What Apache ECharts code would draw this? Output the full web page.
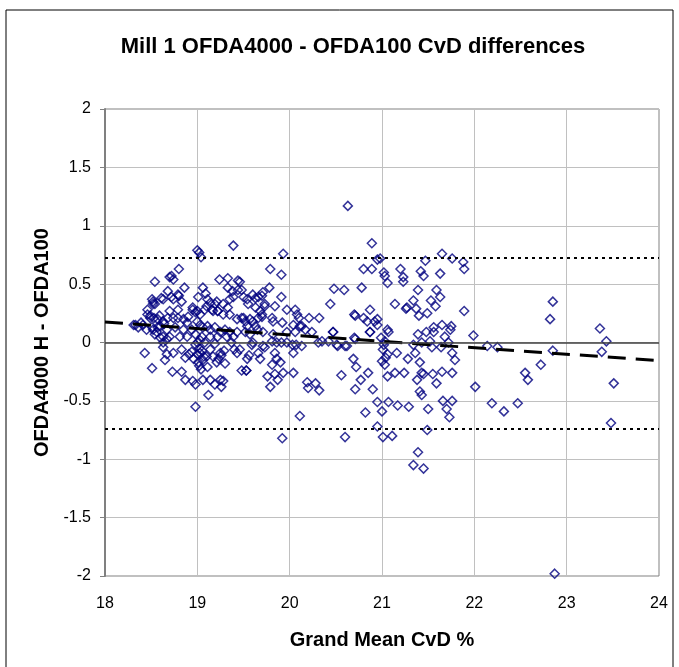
<!DOCTYPE html>
<html>
<head>
<meta charset="utf-8">
<title>Mill 1 OFDA4000 - OFDA100 CvD differences</title>
<script src="https://cdn.jsdelivr.net/npm/echarts@6/dist/echarts.min.js"></script>
<style>
  html, body { margin: 0; padding: 0; background: #fff; }
  #chart { width: 679px; height: 667px; }
</style>
</head>
<body>
<div id="chart"></div>
<script>
// grand mean CvD (x) and OFDA4000 - OFDA100 difference (y)
var pointsX = [
  18.31, 18.36, 18.39, 18.43, 18.51, 18.49, 18.51, 18.52, 18.54, 18.59, 18.61, 18.56, 18.60, 18.63, 18.67, 18.64, 18.45, 18.52, 18.57, 18.53, 18.46,
  18.46, 18.49, 18.57, 18.63, 18.68, 18.74, 18.79, 18.85, 18.89,
  18.33, 18.41, 18.51, 18.60, 18.67, 18.76, 18.85, 18.94,
  18.54, 18.63, 18.70, 18.81, 18.89, 18.98, 19.05, 19.14, 19.22, 19.32, 19.39,
  18.68, 18.79, 18.83, 18.74, 18.63, 18.52, 18.54,
  19.33, 19.38, 19.44, 19.39, 19.50, 19.60, 19.66, 19.55, 19.63,
  19.01, 19.11, 19.14, 19.21, 19.28, 19.33, 19.35,
  18.95, 19.00, 19.03, 19.08, 19.16, 19.22, 19.28, 19.35, 19.43, 19.48, 19.52, 19.57, 19.60, 19.66,
  19.00, 19.03, 19.06, 19.11, 19.14, 19.19, 19.25, 19.30, 19.35, 19.43, 19.52, 19.57, 19.65,
  19.00, 19.02, 19.04, 19.39, 18.80, 18.72, 18.74, 18.70, 19.24, 19.33, 19.44, 18.86, 19.06, 19.09, 18.72, 18.80,
  18.70, 18.79, 18.90, 18.95, 18.98, 19.10, 19.17, 19.19, 19.22,
  18.63, 18.67, 18.65, 18.74, 18.83, 18.87, 18.94, 19.00, 19.03, 19.01, 19.06, 19.10, 19.17, 19.25, 19.23, 19.40, 19.43, 19.37,
  18.91, 18.96, 19.02, 19.04, 19.07, 19.14, 19.19, 19.26, 19.29, 19.54, 19.59, 19.48,
  18.73, 18.83, 18.87, 18.95, 18.98, 19.06, 19.14, 19.19, 19.25, 19.28, 19.12, 18.98, 19.26, 19.30, 19.21, 19.11, 19.53,
  18.98, 19.00, 19.02, 19.05, 19.03, 19.08,
  19.46, 19.48, 19.63, 19.54, 19.73, 19.84, 19.68, 19.70, 19.97, 20.06, 20.08, 20.10, 20.21, 20.32, 19.81, 19.82, 19.92, 19.50, 19.54, 19.63, 20.04, 20.13,
  19.93, 19.79, 19.91, 19.78, 19.91, 19.70, 19.71, 19.73, 19.70, 19.71, 19.81,
  20.17, 20.24, 20.35, 20.42, 20.51, 20.60, 20.11, 20.06, 19.97, 19.82, 19.86, 19.97, 20.07, 20.13,
  19.60, 19.71, 19.73, 19.66, 19.68, 19.91, 19.56, 19.46,
  19.84, 19.86, 19.90, 19.81, 19.93, 19.84, 19.76, 19.87, 19.79, 20.04, 19.53,
  20.03, 20.04, 20.19, 20.20, 20.28, 20.32, 20.11, 19.92,
  20.31, 20.47, 20.52, 20.62, 20.71,
  20.69, 20.72, 20.85, 20.77, 20.56, 20.71, 20.82, 20.60, 20.87, 20.90, 20.95, 20.95,
  20.63, 20.89, 20.95, 20.80, 20.89, 20.78, 20.48, 20.59, 20.44, 20.71, 20.80, 20.84, 20.87, 20.95, 20.70, 20.92, 20.95, 20.87, 21.07, 20.47, 20.70,
  21.14, 21.26, 21.06, 21.23,
  21.65, 21.47, 21.76, 21.88, 21.89, 21.20, 21.02, 21.03, 21.23, 21.42, 21.45, 21.63, 20.98, 21.39, 21.59, 21.63, 21.53, 21.58, 21.34, 21.27, 21.37,
  21.40, 21.49, 21.89, 21.65, 21.75, 21.56, 21.06,
  21.39, 21.48, 21.56, 21.68, 21.74, 21.99, 22.14, 22.25,
  21.34, 21.43, 21.52, 21.54, 21.64, 21.72, 21.76, 21.79, 21.16, 21.28, 21.36,
  21.03, 21.01, 21.06, 21.00, 21.03, 21.02, 20.99, 21.04,
  21.41, 21.43, 21.45, 21.38, 21.55, 21.65, 21.76, 21.59, 21.14, 21.24, 21.06, 22.01, 21.41, 21.43,
  21.07, 21.17, 21.29, 21.50, 21.66, 21.76, 21.70, 21.73, 21.00, 22.19, 22.32, 22.47, 21.49, 21.01, 21.11, 21.39, 21.34, 21.45,
  22.85, 22.82, 23.36, 23.43, 23.38, 22.85, 22.72, 22.55, 22.58, 23.51, 23.48, 22.87
];
var pointsY = [
  0.15, 0.13, 0.17, -0.09, -0.22, 0.23, 0.37, 0.33, 0.52, 0.23, 0.38, 0.09, 0.04, 0.00, 0.03, 0.16, 0.11, 0.11, 0.13, 0.21, 0.28,
  0.24, 0.21, 0.20, 0.18, 0.21, 0.21, 0.21, 0.20, 0.17,
  0.15, 0.15, 0.13, 0.14, 0.11, 0.13, 0.11, 0.11,
  0.07, 0.05, 0.05, 0.05, 0.05, 0.07, 0.05, 0.05, 0.05, 0.05, 0.05,
  0.44, 0.41, 0.35, 0.37, 0.37, 0.35, 0.33,
  0.47, 0.44, 0.45, 0.39, 0.39, 0.41, 0.39, 0.33, 0.30,
  0.39, 0.37, 0.34, 0.35, 0.33, 0.30, 0.37,
  0.30, 0.27, 0.24, 0.28, 0.28, 0.27, 0.24, 0.24, 0.20, 0.21, 0.18, 0.20, 0.18, 0.21,
  0.18, 0.15, 0.13, 0.14, 0.11, 0.13, 0.09, 0.11, 0.09, 0.09, 0.09, 0.07, 0.11,
  0.79, 0.77, 0.73, 0.83, 0.63, 0.57, 0.54, 0.56, 0.54, 0.55, 0.53, 0.47, 0.47, 0.42, 0.39, 0.40,
  0.27, 0.28, 0.22, 0.28, 0.26, 0.31, 0.27, 0.33, 0.27,
  -0.04, -0.10, -0.15, -0.09, -0.06, -0.13, -0.08, -0.10, -0.09, -0.17, -0.15, -0.12, -0.12, -0.09, -0.14, -0.06, -0.09, 0.00,
  -0.10, -0.14, -0.20, -0.23, -0.12, -0.06, -0.01, -0.11, -0.07, -0.14, -0.02, -0.24,
  -0.25, -0.25, -0.32, -0.33, -0.36, -0.32, -0.32, -0.36, -0.32, -0.33, -0.45, -0.55, -0.38, -0.18, -0.17, -0.21, -0.24,
  -0.02, 0.00, -0.05, -0.07, 0.02, 0.00,
  0.52, 0.45, 0.38, 0.37, 0.31, 0.31, 0.27, 0.22, 0.28, 0.28, 0.24, 0.21, 0.21, 0.21, 0.21, 0.18, 0.17, 0.21, 0.14, 0.14, 0.15, 0.14,
  0.76, 0.63, 0.58, 0.47, 0.39, 0.40, 0.43, 0.33, 0.24, 0.09, 0.01,
  0.11, 0.09, 0.01, 0.01, -0.02, -0.03, 0.14, 0.09, 0.09, 0.07, 0.00, 0.00, -0.02, -0.03,
  0.00, -0.03, -0.04, -0.09, -0.14, 0.00, -0.11, -0.06,
  -0.09, -0.14, -0.17, -0.19, -0.26, -0.27, -0.29, -0.32, -0.38, -0.26, -0.24,
  -0.02, -0.09, -0.34, -0.39, -0.35, -0.41, -0.63, -0.82,
  0.00, 0.09, -0.03, -0.03, 0.03,
  -0.14, -0.21, -0.26, -0.32, -0.28, -0.40, -0.60, -0.81, 0.09, -0.40, -0.51, -0.72,
  1.17, 0.85, 0.71, 0.63, 0.63, 0.47, 0.46, 0.45, 0.33, 0.23, 0.21, 0.18, 0.28, 0.20, 0.24, 0.18, 0.15, 0.09, 0.09, 0.09, 0.04,
  0.33, 0.29, 0.51, 0.52,
  0.76, 0.70, 0.72, 0.69, 0.63, 0.63, 0.60, 0.57, 0.56, 0.61, 0.57, 0.59, 0.72, 0.45, 0.45, 0.39, 0.36, 0.31, 0.36, 0.30, 0.29,
  0.23, 0.25, 0.27, 0.15, 0.14, 0.13, 0.11,
  0.07, 0.09, 0.09, 0.05, 0.11, 0.06, -0.03, -0.04,
  -0.02, 0.00, 0.01, -0.04, -0.04, 0.00, -0.09, -0.15, -0.09, -0.14, -0.09,
  0.01, -0.06, -0.10, -0.16, -0.19, -0.02, 0.04, -0.13,
  -0.17, -0.26, -0.27, -0.32, -0.27, -0.25, -0.26, -0.35, -0.26, -0.26, -0.29, -0.38, -0.42, -0.45,
  -0.51, -0.54, -0.55, -0.57, -0.50, -0.50, -0.57, -0.64, -0.59, -0.52, -0.59, -0.52, -0.75, -0.81, -0.80, -0.94, -1.05, -1.08,
  0.35, 0.20, 0.12, 0.01, -0.08, -0.07, -0.19, -0.26, -0.32, -0.35, -0.69, -1.98
];

// trend line ends and the two dotted limit lines
var trendX = [18, 24];
var trendY = [0.175, -0.155];
var upperLimit = 0.73;
var lowerLimit = -0.745;

var chart = echarts.init(document.getElementById('chart'));

var scatterData = pointsX.map(function (x, i) { return [x, pointsY[i]]; });
var trendData = trendX.map(function (x, i) { return [x, trendY[i]]; });

var option = {
  animation: false,
  backgroundColor: '#fff',
  textStyle: { fontFamily: 'Liberation Sans, Arial, sans-serif' },
  title: {
    text: 'Mill 1 OFDA4000 - OFDA100 CvD differences',
    left: 348,
    top: 31,
    textAlign: 'center',
    textStyle: { fontSize: 22, fontWeight: 'bold', color: '#000' }
  },
  graphic: [
    {
      type: 'rect',
      shape: { x: 6, y: 10, width: 667, height: 680 },
      style: { fill: 'none', stroke: '#000', lineWidth: 1 },
      silent: true
    }
  ],
  grid: {
    left: 105,
    top: 109,
    width: 554,
    height: 467,
    show: true,
    borderColor: '#808080',
    borderWidth: 1
  },
  xAxis: {
    type: 'value',
    min: 18,
    max: 24,
    interval: 1,
    name: 'Grand Mean CvD %',
    nameLocation: 'middle',
    nameGap: 54,
    nameTextStyle: { fontSize: 20, fontWeight: 'bold', color: '#000' },
    axisLine: { onZero: false, show: false },
    axisTick: { show: false },
    axisLabel: { fontSize: 16, color: '#000', margin: 20 },
    splitLine: { lineStyle: { color: '#c0c0c0', width: 1 } }
  },
  yAxis: {
    type: 'value',
    min: -2,
    max: 2,
    interval: 0.5,
    name: 'OFDA4000 H - OFDA100',
    nameLocation: 'middle',
    nameGap: 52,
    nameTextStyle: { fontSize: 20, fontWeight: 'bold', color: '#000' },
    axisLine: { show: true, lineStyle: { color: '#808080', width: 2 } },
    axisTick: { show: true, length: 5, lineStyle: { color: '#808080' } },
    axisLabel: { fontSize: 16, color: '#000', margin: 14 },
    splitLine: { lineStyle: { color: '#c0c0c0', width: 1 } }
  },
  series: [
    {
      type: 'scatter',
      data: scatterData,
      symbol: 'diamond',
      symbolSize: [9, 9],
      itemStyle: { color: 'rgba(255,255,255,0)', borderColor: '#000080', borderWidth: 1.5 },
      z: 3,
      markLine: {
        silent: true,
        symbol: 'none',
        label: { show: false },
        data: [
          { yAxis: 0, lineStyle: { color: '#404040', type: 'solid', width: 1.5 } },
          { yAxis: upperLimit, lineStyle: { color: '#000', type: [3, 4], width: 2 } },
          { yAxis: lowerLimit, lineStyle: { color: '#000', type: [3, 4], width: 2 } }
        ]
      }
    },
    {
      type: 'line',
      data: trendData,
      symbol: 'none',
      lineStyle: { color: '#000', width: 3, type: [18, 10] },
      z: 4
    }
  ]
};

chart.setOption(option);

window.addEventListener('resize', function () {
  chart.resize();
});
</script>
</body>
</html>
